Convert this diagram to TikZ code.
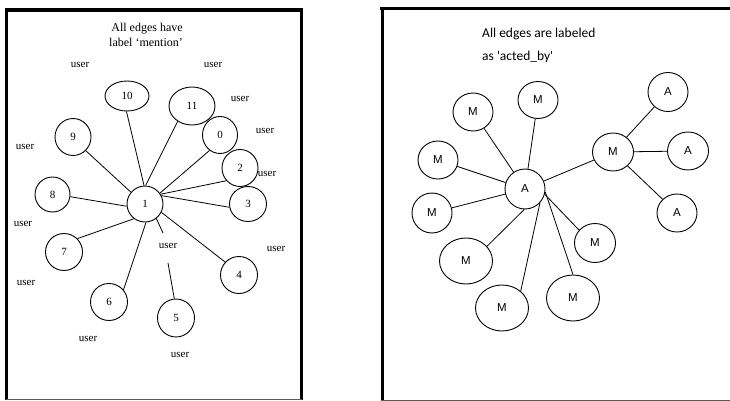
\documentclass[tikz,border=0pt]{standalone}
\usepackage{fontspec}
\setmainfont{Liberation Serif}
\newfontfamily\calfont{Carlito}
\newfontfamily\arialfont{Liberation Sans}
\usetikzlibrary{shapes.geometric}
\begin{document}
\begin{tikzpicture}[x=1pt,y=-1pt,
  framethick/.style={line width=3.3pt,black},
  framebottom/.style={line width=1pt,black!65},
  lnode/.style={ellipse,draw,line width=0.9pt,inner sep=0pt,font=\fontsize{11}{13}\selectfont},
  rnode/.style={ellipse,draw,line width=0.9pt,inner sep=0pt,font=\arialfont\fontsize{11.5}{13}\selectfont},
  usr/.style={font=\fontsize{11}{13}\selectfont,inner sep=0pt},
  ltitle/.style={font=\fontsize{12}{14}\selectfont,inner sep=0pt},
  rtitle/.style={font=\calfont\fontsize{13.5}{16}\selectfont,inner sep=0pt,anchor=west},
  edge/.style={line width=0.8pt}]
\useasboundingbox (0,0) rectangle (730,401);
% frames
\draw[framethick] (5.3,10) -- (303,10);
\draw[framethick] (6.7,8.4) -- (6.7,400);
\draw[framethick] (301.3,8.4) -- (301.3,400);
\draw[framebottom] (6,399.5) -- (302,399.5);
\draw[framethick] (380,8.7) -- (730,8.7);
\draw[framethick,line width=3.8pt] (382.5,7) -- (382.5,400);
\draw[framebottom] (381,400) -- (730,400);

% left panel titles
\node[ltitle] (lt1) at (147,29) {All edges have};
\node[ltitle] (lt2) at (146,42) {label `mention'};

% left nodes
\node[lnode,minimum width=44pt,minimum height=30pt] (n10) at (127,96) {10};
\node[lnode,minimum width=46pt,minimum height=38pt] (n11) at (192,106) {11};
\node[lnode,minimum width=36pt,minimum height=37pt] (n9) at (73,137) {9};
\node[lnode,minimum width=35pt,minimum height=37pt] (n0) at (220,135) {0};
\node[lnode,minimum width=36pt,minimum height=37pt] (n2) at (240,168) {2};
\node[lnode,minimum width=35pt,minimum height=35pt] (n8) at (52.5,194.5) {8};
\node[lnode,minimum width=36pt,minimum height=36pt] (n1) at (145,204) {1};
\node[lnode,minimum width=37pt,minimum height=35pt] (n3) at (248,204) {3};
\node[lnode,minimum width=37pt,minimum height=37pt] (n7) at (64,252) {7};
\node[lnode,minimum width=37pt,minimum height=37pt] (n4) at (239,275) {4};
\node[lnode,minimum width=37pt,minimum height=37pt] (n6) at (109,302) {6};
\node[lnode,minimum width=37pt,minimum height=38pt] (n5) at (176,318) {5};

% left edges
\draw[edge] (n1.93) -- (n10.268);
\draw[edge] (n1.88) -- (n11.227);
\draw[edge] (n1.140) -- (n9.313);
\draw[edge] (n1.36) -- (n0.236);
\draw[edge] (n1.32) -- (n2.223);
\draw[edge] (n1.27) -- (n3.190);
\draw[edge] (n1.187) -- (n8.-7);
\draw[edge] (n1.233) -- (n7.45);
\draw[edge] (n1.273) -- (n6.40);
\draw[edge] (n1.-27) -- (n4.137);
\coordinate (g1) at (163,233);
\coordinate (g2) at (168,263);
\draw[edge] (n1.-52) -- (g1);
\draw[edge] (g2) -- (n5.95);

% user labels
\node[usr] (u1) at (80,65) {user};
\node[usr] (u2) at (213,65) {user};
\node[usr] (u3) at (240,99) {user};
\node[usr] (u4) at (265,131) {user};
\node[usr] (u5) at (267,174) {user};
\node[usr] (u6) at (25,147) {user};
\node[usr] (u7) at (23,224) {user};
\node[usr] (u8) at (168,246) {user};
\node[usr] (u9) at (276,249) {user};
\node[usr] (u10) at (26,283) {user};
\node[usr] (u11) at (88,339) {user};
\node[usr] (u12) at (180,355) {user};

% right panel titles
\node[rtitle] (rt1) at (482,34) {All edges are labeled};
\node[rtitle] (rt2) at (482,57) {as 'acted\_by'};

% right nodes
\node[rnode,minimum width=40pt,minimum height=38pt] (m1) at (473,112) {M};
\node[rnode,minimum width=40pt,minimum height=37pt] (m2) at (538,100) {M};
\node[rnode,minimum width=40pt,minimum height=39pt] (a1) at (668,92) {A};
\node[rnode,minimum width=41pt,minimum height=38pt] (mh) at (613,152) {M};
\node[rnode,minimum width=41pt,minimum height=38pt] (a2) at (688,151) {A};
\node[rnode,minimum width=40pt,minimum height=38pt] (m3) at (438,160) {M};
\node[rnode,minimum width=40pt,minimum height=40pt] (ac) at (525,189) {A};
\node[rnode,minimum width=40pt,minimum height=40pt] (m4) at (432,213) {M};
\node[rnode,minimum width=40pt,minimum height=38pt] (a3) at (677,213) {A};
\node[rnode,minimum width=41pt,minimum height=39pt] (m5) at (595,243) {M};
\node[rnode,minimum width=53pt,minimum height=46pt] (m6) at (466,261) {M};
\node[rnode,minimum width=53pt,minimum height=46pt] (m7) at (502,308) {M};
\node[rnode,minimum width=53pt,minimum height=46pt] (m8) at (573,298) {M};

% right edges
\draw[edge] (ac) -- (m1);
\draw[edge] (ac) -- (m2);
\draw[edge] (ac) -- (mh);
\draw[edge] (ac) -- (m3);
\draw[edge] (ac) -- (m4);
\draw[edge] (ac.268) -- (m6.35);
\draw[edge] (ac.-43) -- (m7.42);
\draw[edge] (ac.-8) -- (m8.90);
\draw[edge] (ac.-15) -- (m5.141);
\draw[edge] (mh) -- (a1);
\draw[edge] (mh) -- (a2);
\draw[edge] (mh) -- (a3);
\end{tikzpicture}
\end{document}
